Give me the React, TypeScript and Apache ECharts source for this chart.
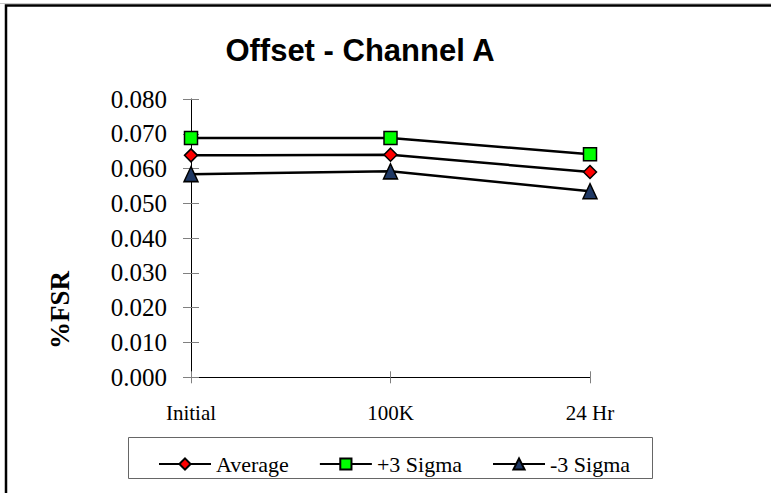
import React, { useEffect, useRef } from "react";
import * as echarts from "echarts";

const categories = ["Initial", "100K", "24 Hr"];
const averageValues = [0.0638, 0.0640, 0.0590];
const plus3SigmaValues = [0.0688, 0.0688, 0.0641];
const minus3SigmaValues = [0.0584, 0.0592, 0.0535];
const seriesNames = ["Average", "+3 Sigma", "-3 Sigma"];
const titleText = "Offset - Channel A";
const yAxisTitle = "%FSR";

const SERIF = "'Liberation Serif', 'Times New Roman', serif";
const SANS = "'Liberation Sans', Arial, sans-serif";

export default function App() {
  const ref = useRef<HTMLDivElement>(null);
  useEffect(() => {
    if (!ref.current) return;
    const chart = echarts.init(ref.current, null, { renderer: "svg" });
    const lineStyle = { color: "#000", width: 2.5 };
    const mk = (name: string, data: number[], symbol: string, size: any, color: string) => ({
      name,
      type: "line",
      data,
      symbol,
      symbolSize: size,
      showSymbol: true,
      lineStyle,
      itemStyle: { color, borderColor: "#000", borderWidth: 1.5 },
      emphasis: { disabled: true },
    });
    chart.setOption({
      animation: false,
      backgroundColor: "#fff",
      grid: { left: 191, right: 181, top: 99, height: 278.3, containLabel: false },
      xAxis: [
        {
          type: "category",
          data: categories,
          boundaryGap: false,
          position: "bottom",
          axisLine: { lineStyle: { color: "#000", width: 1 } },
          axisTick: { show: true, length: 6, lineStyle: { color: "#808080" } },
          axisLabel: { color: "#000", fontFamily: SERIF, fontSize: 21, margin: 25 },
          splitLine: { show: false },
        },
        {
          type: "category",
          data: categories,
          boundaryGap: false,
          position: "bottom",
          axisLine: { show: false },
          axisTick: { show: true, inside: true, length: 6, lineStyle: { color: "#808080" } },
          axisLabel: { show: false },
          splitLine: { show: false },
        },
      ],
      yAxis: [
        {
          type: "value",
          min: 0,
          max: 0.08,
          interval: 0.01,
          position: "left",
          axisLine: { show: true, lineStyle: { color: "#000", width: 1 } },
          axisTick: { show: true, length: 8, lineStyle: { color: "#808080" } },
          axisLabel: {
            color: "#000",
            fontFamily: SERIF,
            fontSize: 25,
            margin: 24,
            formatter: (v: number) => v.toFixed(3),
          },
          splitLine: { show: false },
        },
        {
          type: "value",
          min: 0,
          max: 0.08,
          interval: 0.01,
          position: "left",
          axisLine: { show: false },
          axisTick: { show: true, inside: true, length: 8, lineStyle: { color: "#808080" } },
          axisLabel: { show: false },
          splitLine: { show: false },
        },
      ],
      legend: {
        data: seriesNames,
        left: 158,
        top: 453,
        itemWidth: 52,
        itemHeight: 14,
        itemGap: 30,
        padding: 0,
        textStyle: { color: "#000", fontFamily: SERIF, fontSize: 22 },
      },
      graphic: [
        {
          type: "line",
          shape: { x1: 0, y1: 3.5, x2: 771, y2: 3.5 },
          style: { stroke: "#c8c8c8", lineWidth: 1 },
          silent: true,
        },
        {
          type: "rect",
          shape: { x: 6, y: 5.5, width: 820, height: 600 },
          style: { fill: "none", stroke: "#000", lineWidth: 2.5 },
          silent: true,
        },
        {
          type: "rect",
          shape: { x: 128.5, y: 437.5, width: 524, height: 41 },
          style: { fill: "none", stroke: "#666", lineWidth: 1 },
          silent: true,
        },
        {
          type: "text",
          x: 360,
          y: 50,
          style: {
            text: titleText,
            fill: "#000",
            font: `bold 31px ${SANS}`,
            textAlign: "center",
            textVerticalAlign: "middle",
          },
          silent: true,
        },
        {
          type: "text",
          x: 60,
          y: 310,
          rotation: Math.PI / 2,
          style: {
            text: yAxisTitle,
            fill: "#000",
            font: `bold 27px ${SERIF}`,
            textAlign: "center",
            textVerticalAlign: "middle",
          },
          silent: true,
        },
      ],
      series: [
        mk(seriesNames[0], averageValues, "diamond", [13, 13], "#ff0000"),
        mk(seriesNames[1], plus3SigmaValues, "rect", [13, 13], "#00ff00"),
        mk(seriesNames[2], minus3SigmaValues, "triangle", [14, 15], "#1f3864"),
      ],
    });
    return () => chart.dispose();
  }, []);
  return (
    <div
      ref={ref}
      style={{ position: "fixed", left: 0, top: 0, width: 771, height: 493, background: "#fff" }}
    />
  );
}
